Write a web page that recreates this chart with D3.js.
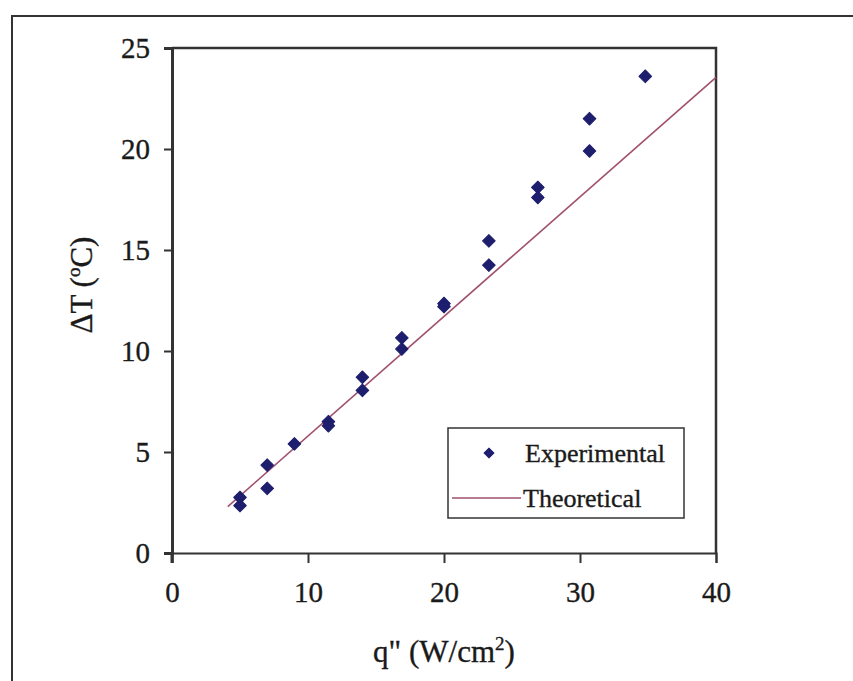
<!DOCTYPE html>
<html>
<head>
<meta charset="utf-8">
<script src="https://cdn.jsdelivr.net/npm/d3@7"></script>
<style>
  body { margin: 0; background: #fff; }
</style>
</head>
<body>
<svg id="chart" width="853" height="681"></svg>
<script>
// experimental points (heat flux q'' in W/cm2, temperature rise in C)
const expQ = [5, 5, 7, 7, 9, 11.5, 11.5, 14, 14, 16.9, 16.9, 20, 20, 23.3, 23.3, 26.9, 26.9, 30.7, 30.7, 34.8];
const expDT = [2.75, 2.35, 4.35, 3.2, 5.4, 6.5, 6.3, 8.7, 8.05, 10.65, 10.1, 12.35, 12.2, 15.45, 14.25, 18.1, 17.6, 21.5, 19.9, 23.6];

// theoretical line end points
const theoQ = [4.1, 40];
const theoDT = [2.3, 23.55];

const xTicks = [0, 10, 20, 30, 40];
const yTicks = [0, 5, 10, 15, 20, 25];

const FONT = "'Liberation Serif', 'Times New Roman', Times, 'DejaVu Serif', serif";

const svg = d3.select("#chart");

const margin = { top: 48, right: 137, bottom: 128, left: 172 };
const width = 853;
const height = 681;

const x = d3.scaleLinear().domain([0, 40]).range([margin.left, width - margin.right]);
const y = d3.scaleLinear().domain([0, 25]).range([height - margin.bottom, margin.top]);

const styleText = (sel, size) =>
  sel.style("font-family", FONT)
    .style("font-size", size + "px")
    .style("fill", "#1a1a1a")
    .style("stroke", "#1a1a1a")
    .style("stroke-width", "0.35px");

// outer frame (only left and top edges show in the picture)
svg.append("path")
  .attr("d", `M12,${height} L12,16 L${width},16`)
  .attr("fill", "none")
  .attr("stroke", "#333")
  .attr("stroke-width", 2);

// plot box: top and right edges
svg.append("path")
  .attr("d", `M${x(0)},${y(25)} L${x(40)},${y(25)} L${x(40)},${y(0)}`)
  .attr("fill", "none")
  .attr("stroke", "#333")
  .attr("stroke-width", 2.5);

const xAxis = (g) =>
  g.attr("transform", `translate(0,${y(0)})`)
    .call(d3.axisBottom(x).tickValues(xTicks).tickSize(10).tickPadding(18).tickFormat(d3.format("d")))
    .call((g) => g.select(".domain").attr("stroke", "#333").attr("stroke-width", 2))
    .call((g) => g.selectAll(".tick line").attr("stroke", "#333").attr("stroke-width", 2))
    .call((g) => styleText(g.selectAll(".tick text"), 29));

const yAxis = (g) =>
  g.attr("transform", `translate(${x(0)},0)`)
    .call(d3.axisLeft(y).tickValues(yTicks).tickSize(8).tickPadding(14).tickFormat(d3.format("d")))
    .call((g) => g.select(".domain").attr("stroke", "#333").attr("stroke-width", 3))
    .call((g) => g.selectAll(".tick line").attr("stroke", "#333").attr("stroke-width", 2))
    .call((g) => styleText(g.selectAll(".tick text"), 29));

svg.append("g").call(xAxis);
svg.append("g").call(yAxis);

// y axis extends down to the tick length below x axis
svg.append("line")
  .attr("x1", x(0)).attr("x2", x(0))
  .attr("y1", y(0)).attr("y2", y(0) + 10)
  .attr("stroke", "#333").attr("stroke-width", 3);

// theoretical line
const theo = theoQ.map((q, i) => ({ q, dt: theoDT[i] }));
svg.append("path")
  .datum(theo)
  .attr("fill", "none")
  .attr("stroke", "#a0506e")
  .attr("stroke-width", 1.6)
  .attr("d", d3.line().x((d) => x(d.q)).y((d) => y(d.dt)));

// experimental markers
const pts = expQ.map((q, i) => ({ q, dt: expDT[i] }));
const diamond = d3.symbol().type(d3.symbolSquare).size(80);
svg.append("g")
  .selectAll("path")
  .data(pts)
  .join("path")
  .attr("d", diamond)
  .attr("transform", (d) => `translate(${x(d.q)},${y(d.dt)}) rotate(45)`)
  .attr("fill", "#1e1e6e")
  .attr("stroke", "#1e1e6e")
  .attr("stroke-width", 1)
  .attr("stroke-linejoin", "round");

// legend
const legend = svg.append("g");
legend.append("rect")
  .attr("x", 448).attr("y", 428)
  .attr("width", 236).attr("height", 90)
  .attr("fill", "#fff")
  .attr("stroke", "#333")
  .attr("stroke-width", 1.5);
legend.append("path")
  .attr("d", d3.symbol().type(d3.symbolSquare).size(50))
  .attr("transform", "translate(489,453) rotate(45)")
  .attr("fill", "#1e1e6e")
  .attr("stroke", "#1e1e6e")
  .attr("stroke-linejoin", "round");
legend.append("text")
  .attr("x", 525).attr("y", 462)
  .call(styleText, 26)
  .text("Experimental");
legend.append("line")
  .attr("x1", 452).attr("x2", 521)
  .attr("y1", 498).attr("y2", 498)
  .attr("stroke", "#a0506e")
  .attr("stroke-width", 1.6);
legend.append("text")
  .attr("x", 523).attr("y", 507)
  .call(styleText, 26)
  .text("Theoretical");

// axis titles
const xTitle = svg.append("text")
  .attr("x", 444).attr("y", 662)
  .attr("text-anchor", "middle")
  .call(styleText, 31);
xTitle.append("tspan").text("q\" (W/cm");
xTitle.append("tspan").attr("dy", -12).style("font-size", "19px").text("2");
xTitle.append("tspan").attr("dy", 12).text(")");

const yTitle = svg.append("text")
  .attr("transform", "translate(92,285) rotate(-90)")
  .attr("text-anchor", "middle")
  .call(styleText, 31);
yTitle.append("tspan").text("ΔT (");
yTitle.append("tspan").attr("dy", -12).style("font-size", "19px").text("o");
yTitle.append("tspan").attr("dy", 12).text("C)");
</script>
</body>
</html>
